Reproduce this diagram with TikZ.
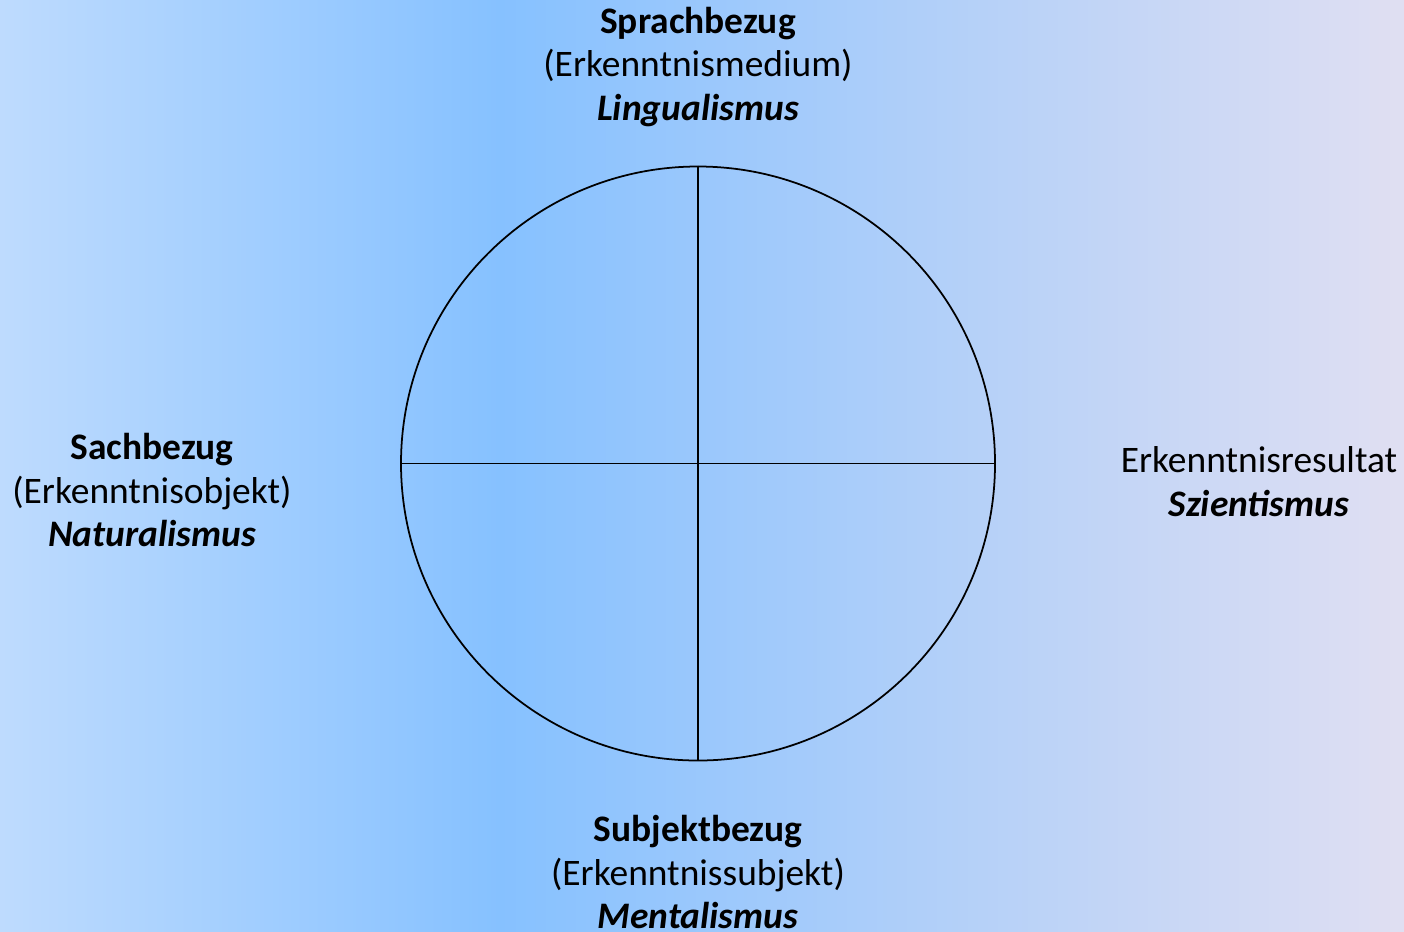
\documentclass[tikz,border=0pt]{standalone}
\usepackage{fontspec}
\setmainfont{Carlito}
\usepackage{tikz}
\usetikzlibrary{positioning}

\definecolor{bgleft}{RGB}{190,219,254}
\definecolor{bgmid}{RGB}{134,193,255}
\definecolor{bgright}{RGB}{224,223,242}

\begin{document}
\begin{tikzpicture}[every node/.style={align=center, font=\fontsize{10.65pt}{12.5pt}\selectfont}, txt/.style={inner sep=0pt}]
        % Define the radius of the circle
        \def\radius{2.97cm}

        % Draw the background
        \useasboundingbox (0,0) rectangle (14.04,9.31);
        \shade[left color=bgleft, right color=bgmid] (0,0) rectangle (5.0,9.31);
        \shade[left color=bgmid, right color=bgright] (5.0,0) rectangle (14.04,9.31);

        % Draw the circle and its two diameters
        \node[circle, draw, line width=0.5pt, minimum size=2*\radius, inner sep=0pt] (K) at (6.98,4.675) {};
        \draw[line width=0.5pt] (K.north) -- (K.south);
        \draw[line width=0.5pt] (K.west) -- (K.east);

        % The four labels
        \node[txt] (top) at (6.98,8.64) {\textbf{Sprachbezug}\\(Erkenntnismedium)\\\textbf{\textit{Lingualismus}}};
        \node[txt] (left) at (1.52,4.41) {\textbf{Sachbezug}\\(Erkenntnisobjekt)\\\textbf{\textit{Naturalismus}}};
        \node[txt] (right) at (12.59,4.49) {Erkenntnisresultat\\\textbf{\textit{Szientismus}}};
        \node[txt] (bottom) at (6.98,0.59) {\textbf{Subjektbezug}\\(Erkenntnissubjekt)\\\textbf{\textit{Mentalismus}}};
      \end{tikzpicture}
\end{document}
